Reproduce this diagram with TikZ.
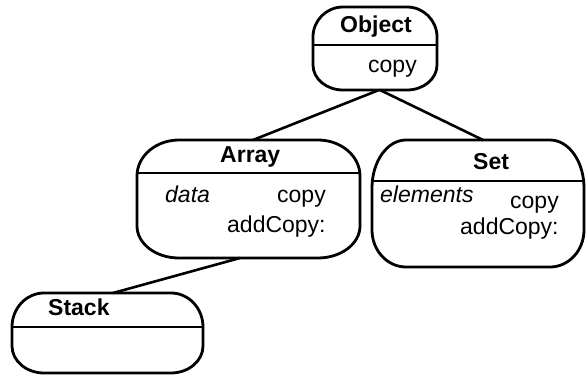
\documentclass[tikz,border=0pt]{standalone}
\usepackage{fontspec}
\setmainfont{Liberation Sans}
\usetikzlibrary{calc}

\tikzset{
  % invisible frame that names each class box
  classbox/.style={rectangle, inner sep=0pt, outer sep=0pt, draw=none},
  % rounded outline with elliptic corners: name, x radius, top y radius, bottom y radius
  outline/.style n args={4}{insert path={
    ([xshift=#2]#1.north west) -- ([xshift=-#2]#1.north east)
    arc[start angle=90,end angle=0,x radius=#2,y radius=#3]
    -- ([yshift=#4]#1.south east)
    arc[start angle=0,end angle=-90,x radius=#2,y radius=#4]
    -- ([xshift=#2]#1.south west)
    arc[start angle=270,end angle=180,x radius=#2,y radius=#4]
    -- ([yshift=-#3]#1.north west)
    arc[start angle=180,end angle=90,x radius=#2,y radius=#3] -- cycle}},
  boxline/.style={line width=2.8pt, line join=round},
  divider/.style={line width=2.5pt},
  link/.style={line width=2.6pt, line cap=round},
  title/.style={font=\fontsize{23}{27}\selectfont\bfseries, anchor=base west, inner sep=0pt},
  member/.style={font=\fontsize{23}{27}\selectfont, anchor=base west, inner sep=0pt},
  attr/.style={font=\fontsize{23}{27}\selectfont\itshape, anchor=base west, inner sep=0pt},
}

\begin{document}
\begin{tikzpicture}[x=1pt, y=-1pt]
  \useasboundingbox (0,0) rectangle (587,377);

  % class frames
  \node[classbox, minimum width=124pt, minimum height=83pt]  (obj)   at (375,48.5) {};
  \node[classbox, minimum width=223pt, minimum height=118pt] (arr)   at (248.5,199) {};
  \node[classbox, minimum width=212pt, minimum height=127pt] (set)   at (478,203.5) {};
  \node[classbox, minimum width=191pt, minimum height=80pt]  (stack) at (107.5,333) {};

  % inheritance links
  \draw[link] ([xshift=4pt]obj.south) -- ([xshift=4.5pt]arr.north);
  \draw[link] ([xshift=5pt]obj.south) -- ([xshift=5pt]set.north);
  \draw[link] ([xshift=-8.5pt]arr.south) -- ([xshift=5.5pt]stack.north);

  % Object
  \begin{scope}
    \clip[outline={obj}{30pt}{30pt}{25pt}];
    \draw[divider] (300,45) -- (450,45);
  \end{scope}
  \draw[boxline, outline={obj}{30pt}{30pt}{25pt}];
  \node[title]  (objname) at (340,33) {Object};
  \node[member] (objcopy) at (368,73) {copy};

  % Array
  \begin{scope}
    \clip[outline={arr}{42pt}{36pt}{32pt}];
    \draw[divider] (120,173) -- (380,173);
  \end{scope}
  \draw[boxline, outline={arr}{42pt}{36pt}{32pt}];
  \node[title]  (arrname) at (220,163) {Array};
  \node[attr]   (arrdata) at (165,203) {data};
  \node[member] (arrcopy) at (277,203) {copy};
  \node[member] (arradd)  at (227,233) {addCopy:};

  % Set
  \begin{scope}
    \clip[outline={set}{34pt}{48pt}{37pt}];
    \draw[divider] (360,181) -- (590,181);
  \end{scope}
  \draw[boxline, outline={set}{34pt}{48pt}{37pt}];
  \node[title]  (setname) at (473,170) {Set};
  \node[attr]   (setelem) at (380,203) {elements};
  \node[member] (setcopy) at (510,208) {copy};
  \node[member] (setadd)  at (460,235) {addCopy:};

  % Stack
  \begin{scope}
    \clip[outline={stack}{32pt}{34pt}{27pt}];
    \draw[divider] (0,327) -- (220,327);
  \end{scope}
  \draw[boxline, outline={stack}{32pt}{34pt}{27pt}];
  \node[title] (stackname) at (48,315) {Stack};
\end{tikzpicture}
\end{document}
